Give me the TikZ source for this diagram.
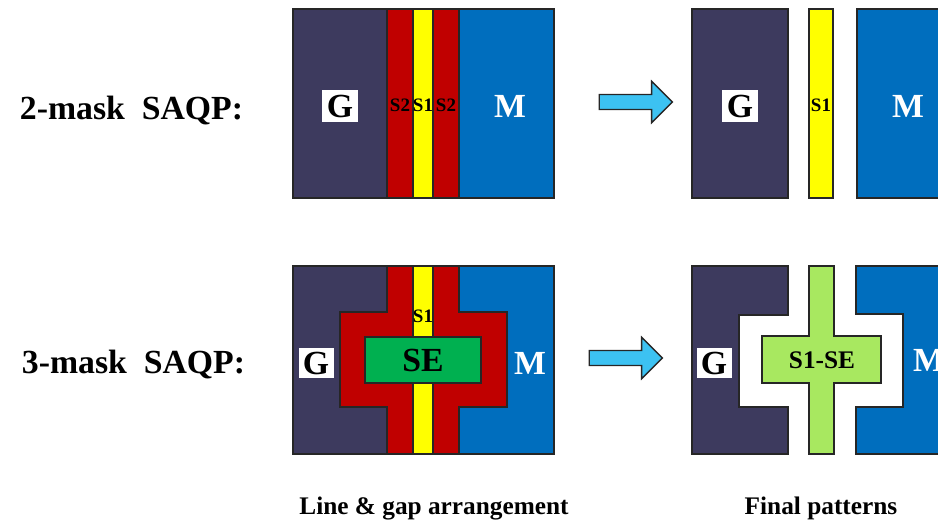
\documentclass[tikz,border=0pt]{standalone}
\usepackage{fontspec}
\setmainfont{Liberation Serif}
\usetikzlibrary{shapes.arrows}

\definecolor{gatenavy}{RGB}{61,58,94}
\definecolor{metalblue}{RGB}{0,110,190}
\definecolor{spacerred}{RGB}{192,0,0}
\definecolor{coreyellow}{RGB}{255,255,0}
\definecolor{segreen}{RGB}{0,176,80}
\definecolor{cutgreen}{RGB}{168,232,96}
\definecolor{flowblue}{RGB}{60,194,242}

\begin{document}
\begin{tikzpicture}[x=0.025cm,y=-0.025cm,
	part/.style={draw=black!85,line width=0.9pt},
	bigtxt/.style={font=\fontsize{24}{28}\selectfont\bfseries},
	captxt/.style={font=\fontsize{18}{21}\selectfont\bfseries},
	smalltxt/.style={font=\fontsize{13.5}{15}\selectfont\bfseries,inner sep=0pt},
	gbox/.style={bigtxt,fill=white,inner sep=0pt,minimum width=0.9cm,minimum height=0.8cm},
	mtxt/.style={bigtxt,text=white},
	flow/.style={single arrow,draw=black!85,fill=flowblue,line width=1pt,
		inner xsep=0pt,inner ysep=0.17cm,minimum height=1.825cm,
		single arrow head extend=0.33cm,single arrow tip angle=90}]

\clip (0,0) rectangle (938,520);

% Row labels
\node[bigtxt,anchor=base west] (row2) at (15,119) {2-mask~~SAQP:};
\node[bigtxt,anchor=base west] (row3) at (17,373) {3-mask~~SAQP:};

% 2-mask: line & gap arrangement
\filldraw[part,fill=gatenavy] (293,9) rectangle (387,198);
\filldraw[part,fill=spacerred] (387,9) rectangle (413,198);
\filldraw[part,fill=coreyellow] (413,9) rectangle (433,198);
\filldraw[part,fill=spacerred] (433,9) rectangle (459,198);
\filldraw[part,fill=metalblue] (459,9) rectangle (554,198);
\draw[part] (293,9) rectangle (554,198);

\node[gbox] (gA) at (340,106) {G};
\node[smalltxt] (s2A) at (400,105) {S2};
\node[smalltxt] (s1A) at (423,105) {S1};
\node[smalltxt] (s2B) at (446,105) {S2};
\node[mtxt] (mA) at (510,106) {M};

% 2-mask: final patterns
\filldraw[part,fill=gatenavy] (692,9) rectangle (788,198);
\filldraw[part,fill=coreyellow] (809,9) rectangle (833,198);
\filldraw[part,fill=metalblue] (857,9) rectangle (945,198);

\node[gbox] (gB) at (740,106) {G};
\node[smalltxt] (s1B) at (821,105) {S1};
\node[mtxt] (mB) at (908,106) {M};

% 3-mask: line & gap arrangement
\filldraw[part,fill=gatenavy] (293,266) rectangle (387,454);
\filldraw[part,fill=metalblue] (459,266) rectangle (554,454);
\filldraw[part,fill=spacerred] (387,266) -- (459,266) -- (459,312) -- (507,312)
	-- (507,407) -- (459,407) -- (459,454) -- (387,454) -- (387,407)
	-- (340,407) -- (340,312) -- (387,312) -- cycle;
\filldraw[part,fill=coreyellow] (413,266) rectangle (433,454);
\filldraw[part,fill=segreen] (365,337) rectangle (481,383);
\draw[part] (293,266) rectangle (554,454);

\node[gbox,minimum width=0.875cm,minimum height=0.75cm] (gC) at (316,363) {G};
\node[smalltxt] (s1C) at (423,316) {S1};
\node[bigtxt] (se) at (423,360) {SE};
\node[mtxt] (mC) at (530,363) {M};

% 3-mask: final patterns
\filldraw[part,fill=gatenavy] (692,266) -- (788,266) -- (788,315) -- (739,315)
	-- (739,407) -- (788,407) -- (788,454) -- (692,454) -- cycle;
\filldraw[part,fill=cutgreen] (809,266) -- (834,266) -- (834,336) -- (881,336)
	-- (881,383) -- (834,383) -- (834,454) -- (809,454) -- (809,383)
	-- (762,383) -- (762,336) -- (809,336) -- cycle;
\filldraw[part,fill=metalblue] (945,266) -- (856,266) -- (856,314) -- (903,314)
	-- (903,407) -- (856,407) -- (856,454) -- (945,454) -- cycle;

\node[gbox,minimum width=0.875cm,minimum height=0.75cm] (gD) at (714,363) {G};
\node[captxt] (s1se) at (822,360) {S1-SE};
\node[mtxt] (mD) at (929,360) {M};

% Process arrows
\node[flow] (flowA) at (632,102) {};
\node[flow] (flowB) at (622,358) {};

% Column captions
\node[captxt,anchor=base] (capL) at (434,514) {Line \& gap arrangement};
\node[captxt,anchor=base] (capR) at (821,514) {Final patterns};

\end{tikzpicture}
\end{document}
